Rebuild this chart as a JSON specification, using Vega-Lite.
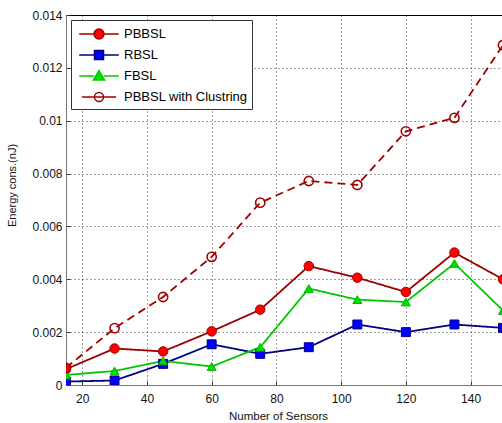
{
  "$schema": "https://vega.github.io/schema/vega-lite/v6.json",
  "width": 437,
  "height": 370,
  "autosize": {"type": "none"},
  "padding": {"left": 66, "top": 15, "right": 0, "bottom": 38},
  "background": "white",
  "config": {
    "font": "Liberation Sans",
    "view": {"stroke": "#000", "strokeWidth": 1},
    "axis": {
      "labelFont": "Liberation Sans",
      "titleFont": "Liberation Sans",
      "labelColor": "#111",
      "titleColor": "#111",
      "labelFontSize": 12,
      "titleFontWeight": "normal",
      "domainColor": "#666",
      "tickColor": "#333",
      "gridColor": "#000",
      "gridDash": [1, 3],
      "gridOpacity": 0.75,
      "gridWidth": 1
    },
    "legend": {
      "orient": "top-left",
      "title": null,
      "offset": 5,
      "padding": 4,
      "rowPadding": 3,
      "strokeColor": "#333",
      "fillColor": "#fff",
      "symbolSize": 324,
      "symbolStrokeWidth": 1.5,
      "symbolOpacity": 1,
      "symbolOffset": 14,
      "labelOffset": 15,
      "labelFont": "Liberation Sans",
      "labelFontSize": 13,
      "labelColor": "#000"
    }
  },
  "data": {
    "values": [
      {"n": 15, "series": "PBBSL", "e": 0.0006},
      {"n": 30, "series": "PBBSL", "e": 0.00138},
      {"n": 45, "series": "PBBSL", "e": 0.00127},
      {"n": 60, "series": "PBBSL", "e": 0.00203},
      {"n": 75, "series": "PBBSL", "e": 0.00285},
      {"n": 90, "series": "PBBSL", "e": 0.0045},
      {"n": 105, "series": "PBBSL", "e": 0.00406},
      {"n": 120, "series": "PBBSL", "e": 0.00352},
      {"n": 135, "series": "PBBSL", "e": 0.00501},
      {"n": 150, "series": "PBBSL", "e": 0.004},
      {"n": 15, "series": "RBSL", "e": 0.00013},
      {"n": 30, "series": "RBSL", "e": 0.00017},
      {"n": 45, "series": "RBSL", "e": 0.0008},
      {"n": 60, "series": "RBSL", "e": 0.00154},
      {"n": 75, "series": "RBSL", "e": 0.00118},
      {"n": 90, "series": "RBSL", "e": 0.00143},
      {"n": 105, "series": "RBSL", "e": 0.00229},
      {"n": 120, "series": "RBSL", "e": 0.002},
      {"n": 135, "series": "RBSL", "e": 0.00229},
      {"n": 150, "series": "RBSL", "e": 0.00216},
      {"n": 15, "series": "FBSL", "e": 0.00038},
      {"n": 30, "series": "FBSL", "e": 0.00053},
      {"n": 45, "series": "FBSL", "e": 0.00091},
      {"n": 60, "series": "FBSL", "e": 0.0007},
      {"n": 75, "series": "FBSL", "e": 0.00143},
      {"n": 90, "series": "FBSL", "e": 0.00365},
      {"n": 105, "series": "FBSL", "e": 0.00323},
      {"n": 120, "series": "FBSL", "e": 0.00314},
      {"n": 135, "series": "FBSL", "e": 0.0046},
      {"n": 150, "series": "FBSL", "e": 0.00282},
      {"n": 15, "series": "PBBSL with Clustring", "e": 0.00065},
      {"n": 30, "series": "PBBSL with Clustring", "e": 0.00215},
      {"n": 45, "series": "PBBSL with Clustring", "e": 0.00333},
      {"n": 60, "series": "PBBSL with Clustring", "e": 0.00485},
      {"n": 75, "series": "PBBSL with Clustring", "e": 0.0069},
      {"n": 90, "series": "PBBSL with Clustring", "e": 0.00772},
      {"n": 105, "series": "PBBSL with Clustring", "e": 0.00757},
      {"n": 120, "series": "PBBSL with Clustring", "e": 0.0096},
      {"n": 135, "series": "PBBSL with Clustring", "e": 0.01011},
      {"n": 150, "series": "PBBSL with Clustring", "e": 0.01286}
    ]
  },
  "layer": [
    {
      "mark": {"type": "line", "strokeWidth": 1.8, "clip": true},
      "encoding": {
        "x": {
          "field": "n", "type": "quantitative",
          "scale": {"domain": [15, 150], "nice": false, "zero": false},
          "axis": {
            "orient": "bottom",
            "title": "Number of Sensors",
            "titleFontSize": 11.5,
            "titlePadding": 6,
            "titleX": 212,
            "values": [20, 40, 60, 80, 100, 120, 140],
            "grid": true,
            "tickSize": -4,
            "labelPadding": 12,
            "domainColor": "#777"
          }
        },
        "y": {
          "field": "e", "type": "quantitative",
          "scale": {"domain": [0, 0.014], "nice": false},
          "axis": {
            "title": "Energy cons.(nJ)",
            "titleFontSize": 11,
            "titleX": -49,
            "titleY": 170,
            "values": [0, 0.002, 0.004, 0.006, 0.008, 0.01, 0.012, 0.014],
            "labelExpr": "datum.value == 0 ? '0' : format(datum.value, '.3~f')",
            "grid": true,
            "tickSize": -4,
            "labelPadding": 8,
            "domainColor": "#777"
          }
        },
        "stroke": {
          "field": "series", "type": "nominal",
          "scale": {
            "domain": ["PBBSL with Clustring", "FBSL", "RBSL", "PBBSL"],
            "range": ["#a00000", "#00c800", "#000080", "#9a0000"]
          },
          "legend": null
        },
        "strokeDash": {
          "field": "series", "type": "nominal",
          "scale": {
            "domain": ["PBBSL with Clustring", "FBSL", "RBSL", "PBBSL"],
            "range": [[8, 5], [1, 0], [1, 0], [1, 0]]
          },
          "legend": null
        }
      }
    },
    {
      "transform": [{"filter": "datum.series == 'PBBSL'"}],
      "mark": {"type": "point", "shape": "circle", "filled": true, "fill": "#ff0000", "stroke": "#a00000", "strokeWidth": 1, "size": 90, "opacity": 1, "clip": true},
      "encoding": {
        "x": {"field": "n", "type": "quantitative"},
        "y": {"field": "e", "type": "quantitative"}
      }
    },
    {
      "transform": [{"filter": "datum.series == 'RBSL'"}],
      "mark": {"type": "point", "shape": "square", "filled": true, "fill": "#0000ff", "stroke": "#000080", "strokeWidth": 1, "size": 80, "opacity": 1, "clip": true},
      "encoding": {
        "x": {"field": "n", "type": "quantitative"},
        "y": {"field": "e", "type": "quantitative"}
      }
    },
    {
      "transform": [{"filter": "datum.series == 'FBSL'"}],
      "mark": {"type": "point", "shape": "triangle-up", "filled": true, "fill": "#00e000", "stroke": "#00b000", "strokeWidth": 1, "size": 80, "opacity": 1, "clip": true},
      "encoding": {
        "x": {"field": "n", "type": "quantitative"},
        "y": {"field": "e", "type": "quantitative"}
      }
    },
    {
      "transform": [{"filter": "datum.series == 'PBBSL with Clustring'"}],
      "mark": {"type": "point", "shape": "circle", "filled": false, "stroke": "#a00000", "strokeWidth": 1.6, "size": 85, "opacity": 1, "clip": true},
      "encoding": {
        "x": {"field": "n", "type": "quantitative"},
        "y": {"field": "e", "type": "quantitative"}
      }
    },
    {
      "mark": {"type": "point", "filled": true, "opacity": 0, "strokeWidth": 1.5},
      "encoding": {
        "x": {"field": "n", "type": "quantitative"},
        "y": {"field": "e", "type": "quantitative"},
        "shape": {
          "field": "series", "type": "nominal",
          "scale": {
            "domain": ["PBBSL", "RBSL", "FBSL", "PBBSL with Clustring"],
            "range": [
              "M-2.2,0H-0.55M0.55,0H2.2M0.55,0A0.55,0.55,0,1,1,-0.55,0A0.55,0.55,0,1,1,0.55,0Z",
              "M-2.2,0H-0.5M0.5,0H2.2M-0.5,-0.5H0.5V0.5H-0.5Z",
              "M-2.2,0H-0.55M0.55,0H2.2M0,-0.6L0.62,0.45H-0.62Z",
              "M-1.9,0H-0.55M0.55,0H1.9M-0.5,0H0.5M0.5,0A0.5,0.5,0,1,1,-0.5,0A0.5,0.5,0,1,1,0.5,0Z"
            ]
          },
          "legend": {
            "orient": "top-left",
            "title": null,
            "encoding": {
              "symbols": {
                "fill": {"value": {"expr": "datum.value == 'PBBSL' ? '#ff0000' : datum.value == 'RBSL' ? '#0000ff' : datum.value == 'FBSL' ? '#00e000' : '#ffffff'"}},
                "stroke": {"value": {"expr": "datum.value == 'PBBSL' ? '#9a0000' : datum.value == 'RBSL' ? '#000080' : datum.value == 'FBSL' ? '#00c800' : '#a00000'"}},
                "opacity": {"value": 1},
                "strokeWidth": {"value": 1.5}
              }
            }
          }
        }
      }
    }
  ]
}
